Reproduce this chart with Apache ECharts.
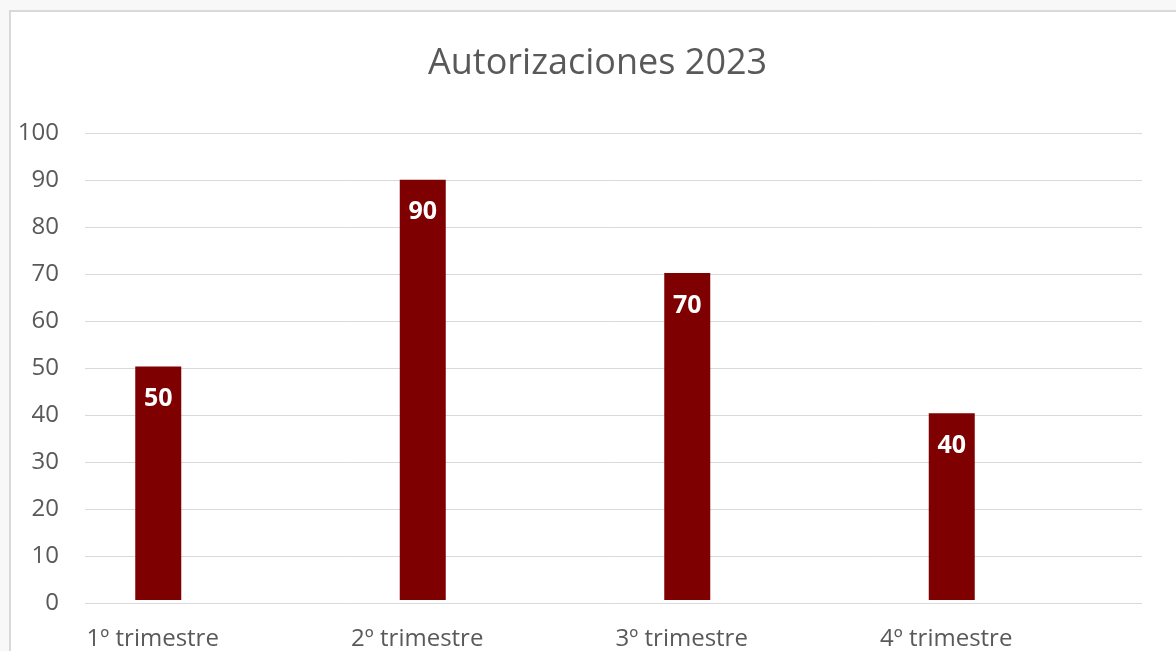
<!DOCTYPE html>
<html>
<head>
<meta charset="utf-8">
<title>Autorizaciones 2023</title>
<script src="https://cdn.jsdelivr.net/npm/echarts@6/dist/echarts.min.js"></script>
<style>
  html, body { margin: 0; padding: 0; background: #f8f8f8; }
  #chart { width: 1176px; height: 651px; }
</style>
</head>
<body>
<div id="chart"></div>
<script>
// datos del gráfico
const titleText = 'Autorizaciones 2023';
const categories = ['1º trimestre', '2º trimestre', '3º trimestre', '4º trimestre'];
const values = [50, 90, 70, 40];
const yMin = 0;
const yMax = 100;
const yStep = 10;

const textColor = '#595959';
const barColor = '#7f0000';
const fontFamily = '"Open Sans", "Noto Sans", sans-serif';

const chart = echarts.init(document.getElementById('chart'));

const option = {
    backgroundColor: '#f8f8f8',
    animation: false,
    textStyle: { fontFamily: fontFamily },
    graphic: [
        {
            type: 'rect',
            z: -10,
            shape: { x: 10, y: 11, width: 1200, height: 700 },
            style: { fill: '#ffffff', stroke: '#d9d9d9', lineWidth: 2 }
        }
    ],
    title: {
        text: titleText,
        left: 423,
        top: 41,
        textStyle: {
            color: textColor,
            fontSize: 36,
            fontWeight: 'normal',
            fontFamily: fontFamily
        }
    },
    grid: [
        // barras
        { left: 26, width: 1058, top: 133, bottom: 48 },
        // líneas de división y eje Y
        { left: 85, right: 34, top: 133, bottom: 48 }
    ],
    xAxis: [
        {
            type: 'category',
            gridIndex: 0,
            data: categories,
            axisLine: { show: false },
            axisTick: { show: false },
            axisLabel: {
                color: textColor,
                fontSize: 24,
                margin: 27,
                padding: [0, 11, 0, 0],
                fontFamily: fontFamily
            }
        },
        {
            type: 'category',
            gridIndex: 1,
            data: categories,
            show: false
        }
    ],
    yAxis: [
        {
            type: 'value',
            gridIndex: 0,
            min: yMin,
            max: yMax,
            interval: yStep,
            show: false,
            splitLine: { show: false }
        },
        {
            type: 'value',
            gridIndex: 1,
            min: yMin,
            max: yMax,
            interval: yStep,
            axisLine: { show: false },
            axisTick: { show: false },
            axisLabel: {
                color: textColor,
                fontSize: 24,
                margin: 26,
                fontFamily: fontFamily
            },
            splitLine: {
                lineStyle: { color: '#d9d9d9', width: 1 }
            }
        }
    ],
    series: [
        {
            type: 'bar',
            xAxisIndex: 0,
            yAxisIndex: 0,
            data: values,
            barWidth: 46,
            itemStyle: { color: barColor },
            label: {
                show: true,
                position: 'insideTop',
                distance: 20,
                color: '#ffffff',
                fontSize: 25,
                fontWeight: 'bold',
                fontFamily: fontFamily
            }
        }
    ]
};

chart.setOption(option);
</script>
</body>
</html>
